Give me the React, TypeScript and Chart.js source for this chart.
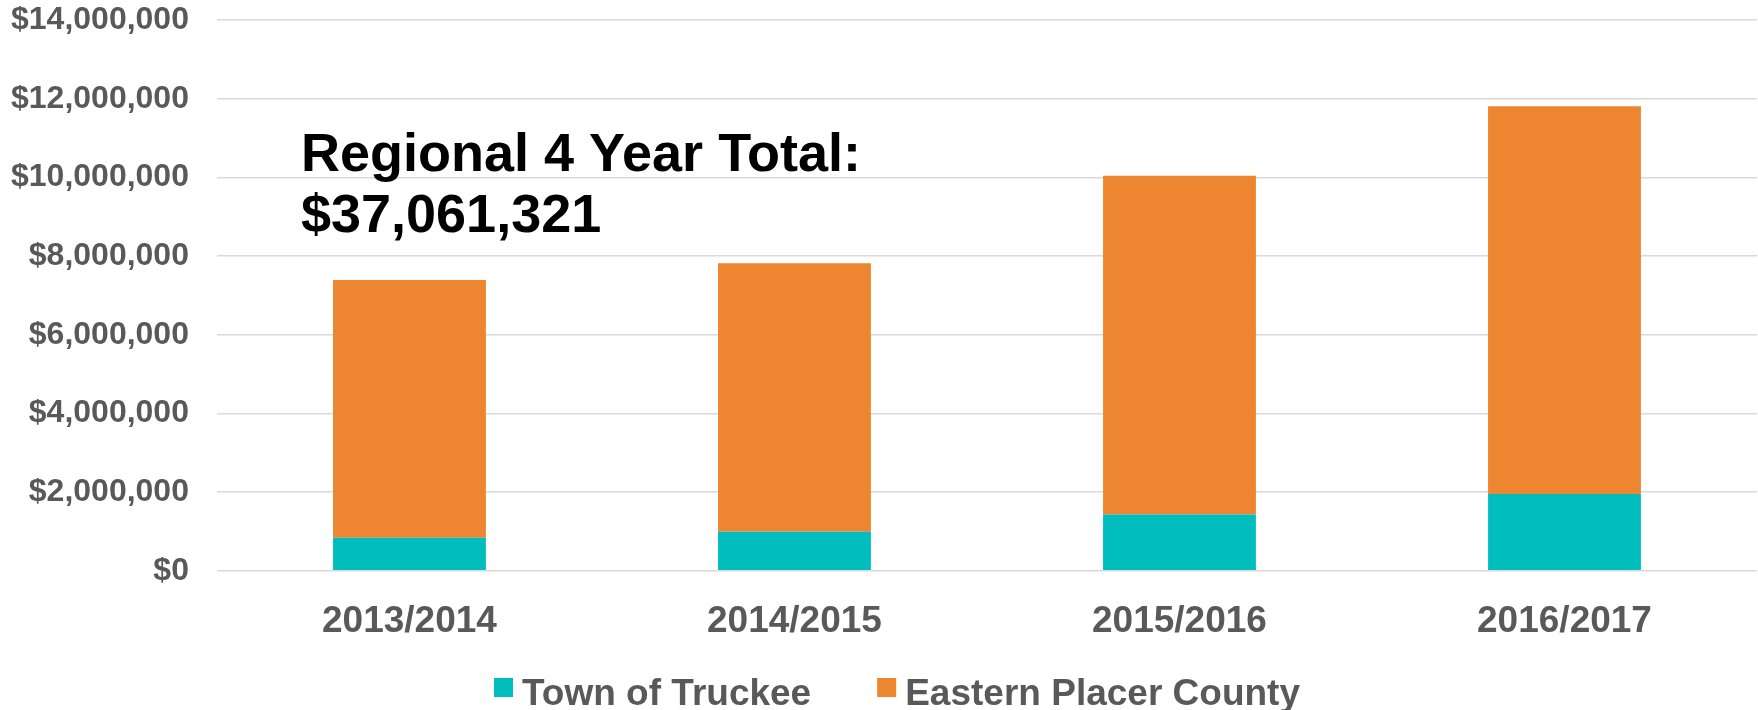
import React, { useEffect, useRef } from "react";
import { Chart, registerables } from "chart.js";

Chart.register(...registerables);

const categories = ["2013/2014", "2014/2015", "2015/2016", "2016/2017"];
const truckeeValues = [840000, 990000, 1430000, 1950000];
const placerValues = [6550000, 6830000, 8610000, 9860000];
const seriesLabels = ["Town of Truckee", "Eastern Placer County"];
const seriesColors = ["#00BEBE", "#ED8531"];
const yTickValues = [0, 2000000, 4000000, 6000000, 8000000, 10000000, 12000000, 14000000];
const annotationLines = ["Regional 4 Year Total:", "$37,061,321"];

const FONT = "'Liberation Sans', Arial, Helvetica, sans-serif";
const GREY = "#595959";

const overlayPlugin = {
  id: "overlay",
  afterDraw(chart: any) {
    const ctx = chart.ctx as CanvasRenderingContext2D;
    const area = chart.chartArea;
    ctx.save();
    // annotation
    ctx.fillStyle = "#000000";
    ctx.font = `bold 54px ${FONT}`;
    ctx.textAlign = "left";
    ctx.textBaseline = "alphabetic";
    ctx.fillText(annotationLines[0], area.left + 84, area.top + 151);
    ctx.fillText(annotationLines[1], area.left + 84, area.top + 212);

    // legend
    ctx.font = `bold 37px ${FONT}`;
    const box = 19;
    const gap = 9;
    const itemGap = 66;
    const datasets = chart.data.datasets;
    const widths = datasets.map((d: any) => ctx.measureText(d.label).width);
    let total = 0;
    widths.forEach((w: number, i: number) => {
      total += box + gap + w + (i < widths.length - 1 ? itemGap : 0);
    });
    let x = (chart.width - total) / 2 + 18;
    const baseline = 705;
    datasets.forEach((d: any, i: number) => {
      ctx.fillStyle = d.backgroundColor;
      ctx.fillRect(x, baseline - 27, box, box);
      x += box + gap;
      ctx.fillStyle = GREY;
      ctx.fillText(d.label, x, baseline);
      x += widths[i] + itemGap;
    });
    ctx.restore();
  },
};

export default function App() {
  const ref = useRef<HTMLCanvasElement | null>(null);
  useEffect(() => {
    document.body.style.margin = "0";
    const canvas = ref.current;
    if (!canvas) return;
    const chart = new Chart(canvas, {
      type: "bar",
      data: {
        labels: categories,
        datasets: [
          {
            label: seriesLabels[0],
            data: truckeeValues,
            backgroundColor: seriesColors[0],
            categoryPercentage: 1,
            barPercentage: 0.397,
          },
          {
            label: seriesLabels[1],
            data: placerValues,
            backgroundColor: seriesColors[1],
            categoryPercentage: 1,
            barPercentage: 0.397,
          },
        ],
      },
      options: {
        responsive: false,
        animation: false,
        layout: { padding: { left: 11, right: 1, top: 20, bottom: 37.4 } },
        plugins: {
          legend: { display: false },
          tooltip: { enabled: false },
        },
        scales: {
          x: {
            stacked: true,
            grid: { display: false, drawTicks: false },
            border: { display: false },
            ticks: {
              color: GREY,
              padding: 28.7,
              font: { family: FONT, size: 37, weight: "bold" },
            },
          },
          y: {
            stacked: true,
            min: 0,
            max: 14000000,
            afterBuildTicks: (axis: any) => {
              axis.ticks = yTickValues.map((v) => ({ value: v }));
            },
            grid: {
              color: "#D9D9D9",
              lineWidth: 1.5,
              drawTicks: true,
              tickLength: 28,
              tickColor: "rgba(0,0,0,0)",
            },
            border: { display: false },
            ticks: {
              color: GREY,
              padding: 0,
              font: { family: FONT, size: 32, weight: "bold" },
              callback: (v: any) => "$" + Number(v).toLocaleString("en-US"),
            },
          },
        },
      },
      plugins: [overlayPlugin],
    });
    return () => chart.destroy();
  }, []);
  return (
    <div style={{ width: 1758, height: 710 }}>
      <canvas ref={ref} width={1758} height={710} style={{ display: "block" }} />
    </div>
  );
}
